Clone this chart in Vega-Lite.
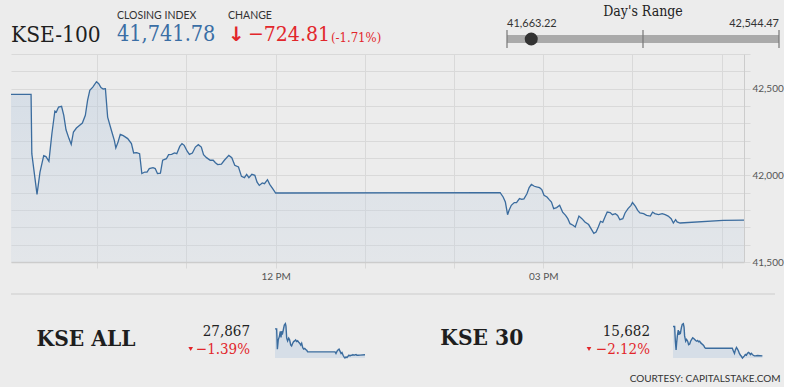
{
"$schema":"https://vega.github.io/schema/vega-lite/v6.json",
"background":"#ececec",
"padding":{"left":8,"top":0,"right":0,"bottom":0},
"spacing":0,
"bounds":"full",
"config":{"view":{"stroke":null},"font":"Lato"},
"vconcat":[
{"hconcat":[
 {"width":89,"height":53,"data":{"values":[{"index":"KSE-100"}]},
  "mark":{"type":"text","font":"DejaVu Serif Condensed, DejaVu Serif","fontSize":22.5,"color":"#1f1f1f","baseline":"middle","align":"left"},
  "encoding":{"text":{"field":"index","type":"nominal"},
   "x":{"datum":"i","type":"nominal","scale":{"type":"point","domain":["i"],"align":0},"axis":null},
   "y":{"datum":"value","type":"nominal","scale":{"type":"point","domain":["label","value"],"padding":0.917,"align":0.475},"axis":null}}},
 {"width":88,"height":53,"data":{"values":[{"label":"CLOSING INDEX","close":41741.78}]},
  "encoding":{"x":{"datum":"i","type":"nominal","scale":{"type":"point","domain":["i"],"align":0.1932},"axis":null}},
  "layer":[
   {"mark":{"type":"text","font":"Lato","fontSize":10.5,"color":"#333333","align":"left","baseline":"middle"},
    "encoding":{"text":{"field":"label","type":"nominal"},"y":{"datum":"label","type":"nominal","scale":{"type":"point","domain":["label","value"],"padding":0.917,"align":0.475},"axis":null}}},
   {"mark":{"type":"text","font":"DejaVu Serif Condensed, DejaVu Serif","fontSize":21.5,"color":"#3a6ea5","align":"left","baseline":"middle"},
    "encoding":{"text":{"field":"close","type":"quantitative","format":",.2f"},"y":{"datum":"value","type":"nominal","scale":{"type":"point","domain":["label","value"],"padding":0.917,"align":0.475},"axis":null}}}
  ]},
 {"width":60,"height":53,"data":{"values":[{"label":"CHANGE","arrow":"↓","change":-724.81}]},
  "layer":[
   {"mark":{"type":"text","font":"Lato","fontSize":10.5,"color":"#333333","align":"left","baseline":"middle"},
    "encoding":{"text":{"field":"label","type":"nominal"},
     "x":{"datum":"arrow","type":"nominal","scale":{"type":"point","domain":["arrow","value"],"padding":1,"align":1},"axis":null},
     "y":{"datum":"label","type":"nominal","scale":{"type":"point","domain":["label","value"],"padding":0.917,"align":0.475},"axis":null}}},
   {"mark":{"type":"text","font":"DejaVu Sans","fontWeight":"bold","fontSize":20,"color":"#e2262b","align":"left","baseline":"middle"},
    "encoding":{"text":{"field":"arrow","type":"nominal"},
     "x":{"datum":"arrow","type":"nominal","scale":{"type":"point","domain":["arrow","value"],"padding":1,"align":1},"axis":null},
     "y":{"datum":"value","type":"nominal","scale":{"type":"point","domain":["label","value"],"padding":0.917,"align":0.475},"axis":null}}},
   {"mark":{"type":"text","font":"DejaVu Serif Condensed, DejaVu Serif","fontSize":21,"color":"#e2262b","align":"left","baseline":"middle"},
    "encoding":{"text":{"field":"change","type":"quantitative","format":",.2f"},
     "x":{"datum":"value","type":"nominal","scale":{"type":"point","domain":["arrow","value"],"padding":1,"align":1},"axis":null},
     "y":{"datum":"value","type":"nominal","scale":{"type":"point","domain":["label","value"],"padding":0.917,"align":0.475},"axis":null}}}
  ]},
 {"width":259,"height":53,"data":{"values":[{"pct":"(-1.71%)"}]},
  "mark":{"type":"text","font":"DejaVu Serif Condensed, DejaVu Serif","fontSize":13,"color":"#e2262b","align":"left","baseline":"middle","dy":3},
  "encoding":{"text":{"field":"pct","type":"nominal"},
   "x":{"datum":"pct","type":"nominal","scale":{"type":"point","domain":["pct"],"align":0.3205},"axis":null},
   "y":{"datum":"value","type":"nominal","scale":{"type":"point","domain":["label","value"],"padding":0.917,"align":0.475},"axis":null}}},
 {"vconcat":[
   {"width":272,"height":23,"data":{"values":[{"title":"Day's Range"}]},
    "mark":{"type":"text","font":"DejaVu Serif Condensed, DejaVu Serif","fontSize":14,"color":"#222222","baseline":"middle"},
    "encoding":{"text":{"field":"title","type":"nominal"}}},
   {"width":272,"height":7,"data":{"values":[{"low":41663.22,"high":42544.47}]},
    "layer":[
     {"mark":{"type":"text","font":"Lato","fontSize":11,"color":"#333333","align":"left","baseline":"alphabetic"},
      "encoding":{"text":{"field":"low","type":"quantitative","format":",.2f"},"x":{"field":"low","type":"quantitative","scale":{"domain":[41663.22,42544.47],"nice":false,"zero":false},"axis":null}}},
     {"mark":{"type":"text","font":"Lato","fontSize":11,"color":"#333333","align":"right","baseline":"alphabetic"},
      "encoding":{"text":{"field":"high","type":"quantitative","format":",.2f"},"x":{"field":"high","type":"quantitative","scale":{"domain":[41663.22,42544.47],"nice":false,"zero":false},"axis":null}}}
    ]},
   {"width":272,"height":18,"data":{"values":[{"low":41663.22,"mid":42103.85,"high":42544.47,"close":41741.78}]},
    "encoding":{"x":{"field":"low","type":"quantitative","scale":{"domain":[41663.22,42544.47],"nice":false,"zero":false},"axis":null}},
    "layer":[
     {"mark":{"type":"rule","color":"#aaaaaa","strokeWidth":8},"encoding":{"x2":{"field":"high"}}},
     {"mark":{"type":"rule","color":"#777777","strokeWidth":1.2},"encoding":{}},
     {"mark":{"type":"rule","color":"#777777","strokeWidth":1.2},"encoding":{"x":{"field":"mid","type":"quantitative"}}},
     {"mark":{"type":"rule","color":"#777777","strokeWidth":1.2},"encoding":{"x":{"field":"high","type":"quantitative"}}},
     {"mark":{"type":"point","filled":true,"color":"#333333","size":170,"opacity":1},"encoding":{"x":{"field":"close","type":"quantitative"}}}
    ]}
  ],"spacing":0,"bounds":"flush"}
],"spacing":0,"bounds":"flush"},
{"width":733,"height":208,
 "data":{"values":[
{"t":"09:02:00","v":42467},{"t":"09:15:30","v":42467},{"t":"09:16:00","v":42125},{"t":"09:19:30","v":41890},{"t":"09:21:30","v":42019},{"t":"09:24:00","v":42114},{"t":"09:25:30","v":42108},{"t":"09:27:30","v":42081},{"t":"09:29:30","v":42240},{"t":"09:31:30","v":42371},{"t":"09:32:30","v":42365},{"t":"09:34:00","v":42394},{"t":"09:36:00","v":42398},{"t":"09:37:30","v":42346},{"t":"09:39:00","v":42263},{"t":"09:41:00","v":42212},{"t":"09:42:30","v":42179},{"t":"09:44:00","v":42250},{"t":"09:46:00","v":42273},{"t":"09:48:00","v":42288},{"t":"09:50:00","v":42302},{"t":"09:52:00","v":42346},{"t":"09:53:30","v":42433},{"t":"09:55:00","v":42490},{"t":"09:57:00","v":42509},{"t":"09:59:30","v":42540},{"t":"10:01:00","v":42529},{"t":"10:02:30","v":42506},{"t":"10:04:00","v":42498},{"t":"10:05:30","v":42500},{"t":"10:07:00","v":42336},{"t":"10:09:30","v":42260},{"t":"10:11:30","v":42202},{"t":"10:12:30","v":42158},{"t":"10:14:00","v":42192},{"t":"10:15:30","v":42236},{"t":"10:17:30","v":42229},{"t":"10:20:30","v":42212},{"t":"10:23:00","v":42183},{"t":"10:24:30","v":42129},{"t":"10:26:30","v":42131},{"t":"10:28:30","v":42125},{"t":"10:30:00","v":42010},{"t":"10:32:00","v":42019},{"t":"10:33:30","v":42019},{"t":"10:35:00","v":42039},{"t":"10:37:30","v":42044},{"t":"10:39:00","v":42039},{"t":"10:40:30","v":42010},{"t":"10:42:30","v":42013},{"t":"10:44:00","v":42087},{"t":"10:46:30","v":42096},{"t":"10:48:00","v":42119},{"t":"10:50:00","v":42121},{"t":"10:52:00","v":42129},{"t":"10:53:30","v":42125},{"t":"10:55:30","v":42167},{"t":"10:57:00","v":42183},{"t":"10:58:30","v":42173},{"t":"11:00:30","v":42139},{"t":"11:02:00","v":42121},{"t":"11:04:00","v":42129},{"t":"11:06:00","v":42163},{"t":"11:08:00","v":42177},{"t":"11:10:00","v":42163},{"t":"11:11:30","v":42119},{"t":"11:13:30","v":42102},{"t":"11:16:00","v":42087},{"t":"11:18:00","v":42087},{"t":"11:19:30","v":42073},{"t":"11:21:00","v":42062},{"t":"11:23:30","v":42064},{"t":"11:25:30","v":42087},{"t":"11:28:30","v":42115},{"t":"11:30:30","v":42102},{"t":"11:32:30","v":42058},{"t":"11:35:00","v":42048},{"t":"11:37:00","v":41994},{"t":"11:39:00","v":41987},{"t":"11:40:30","v":42006},{"t":"11:42:00","v":41987},{"t":"11:44:00","v":42006},{"t":"11:46:00","v":42000},{"t":"11:47:30","v":41961},{"t":"11:49:00","v":41942},{"t":"11:51:00","v":41956},{"t":"11:52:30","v":41952},{"t":"11:54:30","v":41975},{"t":"11:56:00","v":41948},{"t":"11:58:00","v":41923},{"t":"12:00:00","v":41898},
{"t":"14:31:00","v":41900},{"t":"14:33:00","v":41875},{"t":"14:34:30","v":41846},{"t":"14:36:00","v":41773},{"t":"14:37:00","v":41798},{"t":"14:38:30","v":41827},{"t":"14:40:30","v":41843},{"t":"14:42:00","v":41843},{"t":"14:44:00","v":41866},{"t":"14:45:30","v":41862},{"t":"14:47:00","v":41864},{"t":"14:49:00","v":41894},{"t":"14:50:30","v":41929},{"t":"14:52:00","v":41948},{"t":"14:54:00","v":41937},{"t":"14:55:30","v":41933},{"t":"14:57:30","v":41929},{"t":"14:59:00","v":41918},{"t":"15:00:30","v":41885},{"t":"15:02:30","v":41875},{"t":"15:04:00","v":41860},{"t":"15:05:30","v":41846},{"t":"15:07:00","v":41808},{"t":"15:09:00","v":41814},{"t":"15:11:00","v":41827},{"t":"15:13:00","v":41788},{"t":"15:15:00","v":41769},{"t":"15:16:30","v":41750},{"t":"15:18:00","v":41721},{"t":"15:20:00","v":41712},{"t":"15:21:30","v":41702},{"t":"15:23:00","v":41740},{"t":"15:24:00","v":41765},{"t":"15:26:00","v":41750},{"t":"15:28:00","v":41731},{"t":"15:30:30","v":41716},{"t":"15:32:30","v":41687},{"t":"15:34:00","v":41665},{"t":"15:35:30","v":41673},{"t":"15:37:00","v":41702},{"t":"15:38:30","v":41735},{"t":"15:40:00","v":41729},{"t":"15:41:30","v":41760},{"t":"15:43:00","v":41788},{"t":"15:45:00","v":41785},{"t":"15:46:30","v":41773},{"t":"15:48:30","v":41779},{"t":"15:50:00","v":41769},{"t":"15:51:30","v":41744},{"t":"15:53:30","v":41750},{"t":"15:55:00","v":41783},{"t":"15:57:00","v":41808},{"t":"15:59:00","v":41827},{"t":"16:00:00","v":41843},{"t":"16:02:00","v":41821},{"t":"16:03:30","v":41798},{"t":"16:05:00","v":41783},{"t":"16:07:30","v":41779},{"t":"16:09:30","v":41769},{"t":"16:12:00","v":41765},{"t":"16:13:30","v":41788},{"t":"16:15:00","v":41779},{"t":"16:17:30","v":41773},{"t":"16:20:00","v":41779},{"t":"16:22:00","v":41773},{"t":"16:24:00","v":41765},{"t":"16:26:00","v":41750},{"t":"16:27:30","v":41725},{"t":"16:29:00","v":41744},{"t":"16:30:00","v":41731},{"t":"16:32:00","v":41725},{"t":"17:01:00","v":41740},{"t":"17:15:00","v":41742}
 ],"format":{"parse":{"t":"date:'%H:%M:%S'"}}},
 "encoding":{
  "x":{"field":"t","type":"temporal",
   "scale":{"domain":[{"year":1900,"month":1,"date":1,"hours":9,"minutes":2},{"year":1900,"month":1,"date":1,"hours":17,"minutes":15}]},
   "axis":{"title":null,"values":[{"year":1900,"month":1,"date":1,"hours":10},{"year":1900,"month":1,"date":1,"hours":11},{"year":1900,"month":1,"date":1,"hours":12},{"year":1900,"month":1,"date":1,"hours":13},{"year":1900,"month":1,"date":1,"hours":14},{"year":1900,"month":1,"date":1,"hours":15},{"year":1900,"month":1,"date":1,"hours":16},{"year":1900,"month":1,"date":1,"hours":17}],
    "labelExpr":"hours(datum.value) == 12 || hours(datum.value) == 15 ? timeFormat(datum.value, '%I %p') : ''",
    "labelOverlap":false,"labelFlush":false,"grid":true,"gridColor":"#d9d9d9","gridWidth":1,"domainColor":"#cccccc","domainWidth":1.5,"tickColor":"#d9d9d9","tickSize":6,"labelFont":"Lato","labelFontSize":10,"labelColor":"#555555","labelPadding":3}},
  "y":{"field":"v","type":"quantitative","stack":null,
   "scale":{"domain":[41500,42700],"zero":false,"nice":false},
   "axis":{"orient":"right","title":null,"values":[41500,41600,41700,41800,41900,42000,42100,42200,42300,42400,42500,42600,42700],
    "labelExpr":"datum.value % 500 == 0 ? format(datum.value, ',') : ''",
    "labelFontSize":{"condition":{"test":"datum.value % 500 != 0","value":0},"value":10},
    "grid":true,"gridColor":"#d9d9d9","gridWidth":1,"domainColor":"#cccccc","tickColor":"#d9d9d9","tickSize":6,"labelFont":"Lato","labelColor":"#555555","labelPadding":2,"labelOverlap":false}}
 },
 "layer":[
  {"mark":{"type":"area","opacity":1,"color":{"gradient":"linear","x1":0,"y1":0,"x2":0,"y2":1,"stops":[{"offset":0,"color":"rgba(180,200,222,0.4)"},{"offset":1,"color":"rgba(200,212,226,0.25)"}]}}},
  {"mark":{"type":"line","color":"#3b6c9e","strokeWidth":1.3}}
 ]},
{"width":764,"height":13,"data":{"values":[{}]},
 "mark":{"type":"rule","color":"#cccccc","strokeWidth":1.2},
 "encoding":{"y":{"datum":0,"type":"quantitative","scale":{"domain":[0,1]},"axis":null}}},
{"hconcat":[
 {"width":150,"height":93,"data":{"values":[{"index":"KSE ALL"}]},
  "mark":{"type":"text","font":"DejaVu Serif Condensed, DejaVu Serif","fontWeight":"bold","fontSize":22.5,"color":"#1e1e1e","baseline":"middle","align":"center"},
  "encoding":{"text":{"field":"index","type":"nominal"},"y":{"datum":"n","type":"nominal","scale":{"type":"point","domain":["n"],"align":0.468},"axis":null}}},
 {"width":114,"height":54,"data":{"values":[{"close":27867,"change":-0.0139}]},
  "encoding":{
   "x":{"datum":"value","type":"nominal","scale":{"type":"point","domain":["arrow","value"],"padding":0.461,"align":0.543},"axis":null}},
  "layer":[
   {"mark":{"type":"text","font":"DejaVu Serif Condensed, DejaVu Serif","fontSize":15,"color":"#222222","align":"right","baseline":"middle"},
    "encoding":{"text":{"field":"close","type":"quantitative","format":","},
     "y":{"datum":"close","type":"nominal","scale":{"type":"point","domain":["close","change"],"padding":1,"align":1},"axis":null}}},
   {"mark":{"type":"text","font":"DejaVu Serif Condensed, DejaVu Serif","fontSize":15,"color":"#e2262b","align":"right","baseline":"middle"},
    "encoding":{"text":{"field":"change","type":"quantitative","format":".2%"},
     "y":{"datum":"change","type":"nominal","scale":{"type":"point","domain":["close","change"],"padding":1,"align":1},"axis":null}}},
   {"mark":{"type":"point","shape":"triangle-down","filled":true,"size":22,"color":"#e2262b","opacity":1},
    "encoding":{
     "x":{"datum":"arrow","type":"nominal"},
     "y":{"datum":"change","type":"nominal","scale":{"type":"point","domain":["close","change"],"padding":1,"align":1},"axis":null}}}
  ]},
 {"width":90,"height":91.7,
  "data":{"values":[
{"t":"09:02","v":28313},{"t":"09:11","v":28313},{"t":"09:15","v":27965},{"t":"09:20","v":28125},{"t":"09:26","v":28184},{"t":"09:31","v":28272},{"t":"09:35","v":28166},{"t":"09:38","v":28272},{"t":"09:42","v":28213},{"t":"09:48","v":28302},{"t":"09:53","v":28378},{"t":"09:59","v":28402},{"t":"10:02","v":28361},{"t":"10:06","v":28154},{"t":"10:11","v":28107},{"t":"10:17","v":28154},{"t":"10:22","v":28125},{"t":"10:28","v":28036},{"t":"10:33","v":28018},{"t":"10:39","v":28066},{"t":"10:44","v":28095},{"t":"10:50","v":28107},{"t":"10:55","v":28125},{"t":"11:01","v":28095},{"t":"11:06","v":28107},{"t":"11:12","v":28083},{"t":"11:17","v":28066},{"t":"11:23","v":28036},{"t":"11:28","v":28066},{"t":"11:34","v":27989},{"t":"11:39","v":27965},{"t":"11:45","v":27977},{"t":"11:50","v":27959},{"t":"11:55","v":27948},{"t":"12:01","v":27918},{"t":"14:31","v":27918},{"t":"14:36","v":27889},{"t":"14:42","v":27930},{"t":"14:47","v":27948},{"t":"14:53","v":27965},{"t":"14:58","v":27930},{"t":"15:04","v":27889},{"t":"15:09","v":27906},{"t":"15:15","v":27859},{"t":"15:20","v":27830},{"t":"15:25","v":27812},{"t":"15:31","v":27830},{"t":"15:36","v":27818},{"t":"15:42","v":27841},{"t":"15:47","v":27859},{"t":"15:53","v":27847},{"t":"15:58","v":27859},{"t":"16:04","v":27859},{"t":"16:09","v":27871},{"t":"16:15","v":27859},{"t":"16:20","v":27865},{"t":"16:26","v":27871},{"t":"16:31","v":27859},{"t":"16:37","v":27859},{"t":"16:48","v":27862},{"t":"17:15","v":27867}
  ],"format":{"parse":{"t":"date:'%H:%M'"}}},
  "encoding":{
   "x":{"field":"t","type":"temporal","scale":{"domain":[{"year":1900,"month":1,"date":1,"hours":9,"minutes":2},{"year":1900,"month":1,"date":1,"hours":17,"minutes":15}]},"axis":null},
   "y":{"field":"v","type":"quantitative","stack":null,"scale":{"zero":false,"nice":false,"padding":28.7},"axis":null}},
  "layer":[
   {"mark":{"type":"area","color":"#d6dee7","opacity":1},"encoding":{"y2":{"datum":27812}}},
   {"mark":{"type":"line","color":"#3b6c9e","strokeWidth":1.4}}
  ]},
 {"width":200.3,"height":93,"data":{"values":[{"index":"KSE 30"}]},
  "mark":{"type":"text","font":"DejaVu Serif Condensed, DejaVu Serif","fontWeight":"bold","fontSize":22.5,"color":"#1e1e1e","baseline":"middle","align":"center"},
  "encoding":{"text":{"field":"index","type":"nominal"},
   "x":{"datum":"n","type":"nominal","scale":{"type":"point","domain":["n"],"align":0.583},"axis":null},
   "y":{"datum":"n","type":"nominal","scale":{"type":"point","domain":["n"],"align":0.462},"axis":null}}},
 {"width":107,"height":54,"data":{"values":[{"close":15682,"change":-0.0212}]},
  "encoding":{
   "x":{"datum":"value","type":"nominal","scale":{"type":"point","domain":["arrow","value"],"padding":0.377,"align":0.5},"axis":null}},
  "layer":[
   {"mark":{"type":"text","font":"DejaVu Serif Condensed, DejaVu Serif","fontSize":15,"color":"#222222","align":"right","baseline":"middle"},
    "encoding":{"text":{"field":"close","type":"quantitative","format":","},
     "y":{"datum":"close","type":"nominal","scale":{"type":"point","domain":["close","change"],"padding":1,"align":1},"axis":null}}},
   {"mark":{"type":"text","font":"DejaVu Serif Condensed, DejaVu Serif","fontSize":15,"color":"#e2262b","align":"right","baseline":"middle"},
    "encoding":{"text":{"field":"change","type":"quantitative","format":".2%"},
     "y":{"datum":"change","type":"nominal","scale":{"type":"point","domain":["close","change"],"padding":1,"align":1},"axis":null}}},
   {"mark":{"type":"point","shape":"triangle-down","filled":true,"size":22,"color":"#e2262b","opacity":1},
    "encoding":{
     "x":{"datum":"arrow","type":"nominal"},
     "y":{"datum":"change","type":"nominal","scale":{"type":"point","domain":["close","change"],"padding":1,"align":1},"axis":null}}}
  ]},
 {"width":89.4,"height":91.7,
  "data":{"values":[
{"t":"09:02","v":16022},{"t":"09:11","v":16022},{"t":"09:15","v":15852},{"t":"09:19","v":15751},{"t":"09:22","v":15832},{"t":"09:26","v":15913},{"t":"09:31","v":15981},{"t":"09:35","v":15925},{"t":"09:39","v":15965},{"t":"09:42","v":15933},{"t":"09:48","v":16006},{"t":"09:53","v":16046},{"t":"09:59","v":16054},{"t":"10:03","v":16014},{"t":"10:06","v":15913},{"t":"10:12","v":15852},{"t":"10:17","v":15872},{"t":"10:23","v":15852},{"t":"10:28","v":15812},{"t":"10:34","v":15820},{"t":"10:39","v":15852},{"t":"10:45","v":15872},{"t":"10:51","v":15892},{"t":"10:56","v":15884},{"t":"11:02","v":15872},{"t":"11:07","v":15860},{"t":"11:13","v":15852},{"t":"11:18","v":15860},{"t":"11:24","v":15844},{"t":"11:29","v":15852},{"t":"11:35","v":15832},{"t":"11:40","v":15824},{"t":"11:46","v":15812},{"t":"11:51","v":15804},{"t":"11:57","v":15779},{"t":"12:02","v":15771},{"t":"14:29","v":15771},{"t":"14:35","v":15739},{"t":"14:41","v":15711},{"t":"14:46","v":15751},{"t":"14:52","v":15779},{"t":"14:57","v":15763},{"t":"15:03","v":15739},{"t":"15:08","v":15711},{"t":"15:14","v":15690},{"t":"15:19","v":15678},{"t":"15:25","v":15658},{"t":"15:30","v":15670},{"t":"15:36","v":15682},{"t":"15:41","v":15698},{"t":"15:47","v":15690},{"t":"15:52","v":15711},{"t":"15:58","v":15723},{"t":"16:03","v":15715},{"t":"16:09","v":15698},{"t":"16:14","v":15711},{"t":"16:20","v":15698},{"t":"16:25","v":15690},{"t":"16:31","v":15682},{"t":"16:36","v":15682},{"t":"16:48","v":15686},{"t":"17:15","v":15682}
  ],"format":{"parse":{"t":"date:'%H:%M'"}}},
  "encoding":{
   "x":{"field":"t","type":"temporal","scale":{"domain":[{"year":1900,"month":1,"date":1,"hours":9,"minutes":2},{"year":1900,"month":1,"date":1,"hours":17,"minutes":15}]},"axis":null},
   "y":{"field":"v","type":"quantitative","stack":null,"scale":{"zero":false,"nice":false,"padding":28.7},"axis":null}},
  "layer":[
   {"mark":{"type":"area","color":"#d6dee7","opacity":1},"encoding":{"y2":{"datum":15658}}},
   {"mark":{"type":"line","color":"#3b6c9e","strokeWidth":1.4}}
  ]},
 {"width":20,"height":93,"data":{"values":[{"credit":"COURTESY: CAPITALSTAKE.COM"}]},
  "mark":{"type":"text","font":"Lato","fontSize":10,"color":"#333333","align":"right","baseline":"middle"},
  "encoding":{"text":{"field":"credit","type":"nominal"},
   "x":{"datum":"c","type":"nominal","scale":{"type":"point","domain":["c"],"align":0.88},"axis":null},
   "y":{"datum":"c","type":"nominal","scale":{"type":"point","domain":["c"],"align":0.9},"axis":null}}}
],"spacing":0,"bounds":"flush"}
]
}
